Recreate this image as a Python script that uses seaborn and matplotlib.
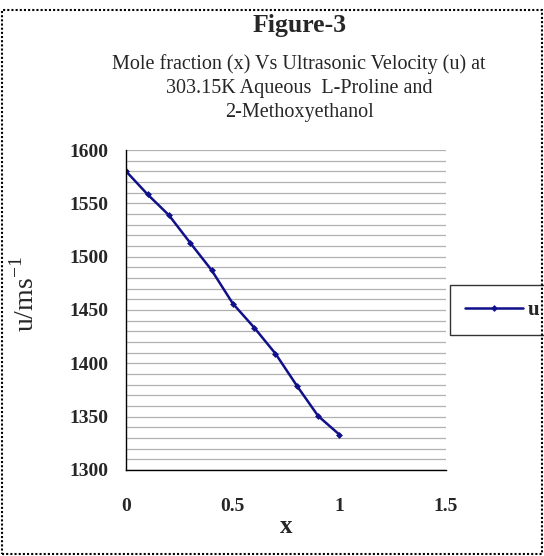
import numpy as np
import pandas as pd
import seaborn as sns
import matplotlib
matplotlib.use('Agg')
import matplotlib.pyplot as plt
from matplotlib.patches import Rectangle
from matplotlib.ticker import MultipleLocator

sns.set_style("white")
plt.rcParams['font.family'] = ['Liberation Serif', 'DejaVu Serif']

# data
mole_fraction = [0.0, 0.1, 0.2, 0.3, 0.4, 0.5, 0.6, 0.7, 0.8, 0.9, 1.0]
velocity = [1580, 1558.5, 1539, 1513, 1487.5, 1456, 1433.5, 1409, 1379, 1350.5, 1333]
x_ticks = [0, 0.5, 1, 1.5]
x_tick_labels = ['0', '0.5', '1', '1.5']

df = pd.DataFrame({'x': mole_fraction, 'u': velocity})

fig = plt.figure(figsize=(5.44, 5.56), dpi=100)
ax = fig.add_axes([0.232, 0.155, 0.588, 0.575])

sns.lineplot(data=df, x='x', y='u', ax=ax, color='#10108a', marker='D',
             markersize=3.5, markeredgewidth=0, linewidth=1.8, label='u')

ax.set_xlim(0, 1.5)
ax.set_ylim(1300, 1600)
ax.set_xticks(x_ticks)
ax.set_xticklabels(x_tick_labels)
ax.yaxis.set_major_locator(MultipleLocator(50))
ax.yaxis.set_minor_locator(MultipleLocator(10))
ax.grid(True, axis='y', which='both', color='#b0b0b0', linewidth=0.9)
ax.grid(False, axis='x')

for side in ['top', 'right']:
    ax.spines[side].set_visible(False)
for side in ['left', 'bottom']:
    ax.spines[side].set_color('black')
    ax.spines[side].set_linewidth(1.0)
    ax.spines[side].set_linestyle((0, (1, 1)))

ax.tick_params(axis='y', which='major', direction='out', length=9, width=1, labelsize=14, pad=4)
ax.tick_params(axis='y', which='minor', length=0)
ax.tick_params(axis='x', direction='in', length=4, width=1, labelsize=14, pad=20)
for lbl in ax.get_xticklabels() + ax.get_yticklabels():
    lbl.set_fontweight('bold')

ax.set_xlabel('x', fontsize=18, fontweight='bold', labelpad=0)
ax.set_ylabel('u/ms$^{\\mathregular{-1}}$', fontsize=20)
ax.yaxis.set_label_coords(-0.27, 0.55)

fig.text(0.55, 0.955, 'Figure-3', ha='center', va='center', fontsize=18.5, fontweight='bold')
fig.text(0.55, 0.842,
         'Mole fraction (x) Vs Ultrasonic Velocity (u) at\n303.15K Aqueous  L-Proline and\n2-Methoxyethanol',
         ha='center', va='center', fontsize=14.5, linespacing=1.35)

ax.legend(loc='center left', bbox_to_anchor=(1.0, 0.5), frameon=True, fancybox=False,
          edgecolor='black', handlelength=2.8, borderpad=0.7,
          handletextpad=0.2, borderaxespad=0.2, prop={'weight': 'bold', 'size': 15})

fig.patches.append(Rectangle((0.003, 0.003), 0.994, 0.979, transform=fig.transFigure,
                             fill=False, edgecolor='black', linewidth=1.5,
                             linestyle=(0, (1, 1))))

fig.savefig('out.png', dpi=100)
